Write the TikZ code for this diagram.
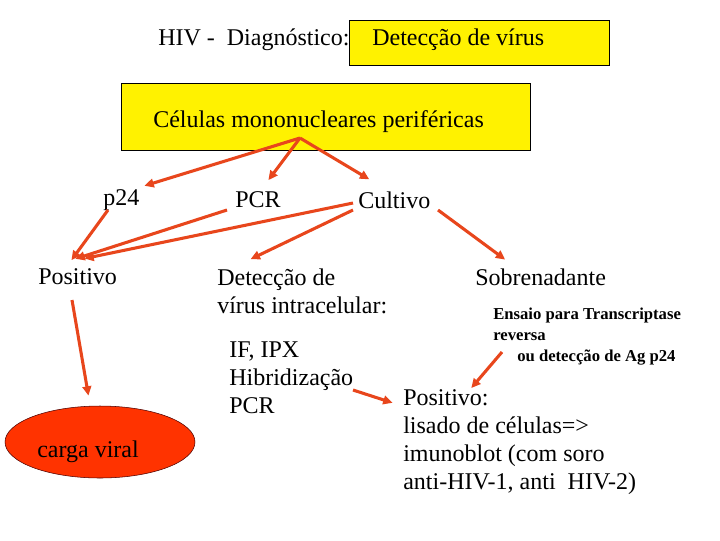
\documentclass[tikz,border=0pt]{standalone}
\usepackage{fontspec}
\setmainfont{Liberation Serif}
\definecolor{arrred}{HTML}{E8461C}
\definecolor{ellred}{HTML}{FF3300}
\usetikzlibrary{arrows.meta, shapes.geometric}
\begin{document}
\begin{tikzpicture}[
    x=0.75pt, y=-0.75pt,
    txt/.style={anchor=west, inner sep=0pt, align=left,
                font=\fontsize{18}{21}\selectfont},
    small/.style={anchor=west, inner sep=0pt, align=left,
                  font=\fontsize{12.5}{15.75}\selectfont\bfseries},
    ybox/.style={draw, fill=yellow, inner sep=0pt},
    arr/.style={-{Triangle[length=7pt,width=6.5pt]}, line width=2.3pt,
                arrred, shorten >=-2pt}
]
  \useasboundingbox (0,0) rectangle (720,540);

  % Title
  \node[txt] (title) at (158,40) {HIV -\ \ Diagnóstico:};
  \node[ybox, minimum width=195pt, minimum height=33.75pt]
       (virbox) at (479,42.5) {};
  \node[txt] (virus) at (372,40) {Detecção de vírus};

  % Cells
  \node[ybox, minimum width=306.75pt, minimum height=50.25pt]
       (celbox) at (325.5,116.5) {};
  \node[txt] (celulas) at (153,122) {Células mononucleares periféricas};

  % Tests
  \node[txt] (p24) at (103,200) {p24};
  \node[txt] (pcr) at (235,200) {PCR};
  \node[txt] (cultivo) at (358,200) {Cultivo};

  % Results
  \node[txt] (positivo) at (38,277) {Positivo};
  \node[txt] (intra) at (217,291) {Detecção de\\vírus intracelular:};
  \node[txt] (metodos) at (229,378) {IF, IPX\\Hibridização\\PCR};
  \node[txt] (sobre) at (475,277) {Sobrenadante};
  \node[small] (ensaio) at (493,337) {Ensaio para Transcriptase\\reversa\\
       \hspace*{18pt}ou detecção de Ag p24};
  \node[txt] (lisado) at (403,442)
       {Positivo:\\lisado de células=>\\imunoblot (com soro\\anti-HIV-1, anti\ \ HIV-2)};
  \node[draw=black!70!red, fill=ellred, ellipse, minimum width=142.5pt,
        minimum height=54pt, inner sep=0pt] (carga) at (100,442) {};
  \node[txt] (cargatxt) at (37,452) {carga viral};

  % Arrow ends
  \coordinate (c0) at (300,138);
  \coordinate (p24in) at (147,185);
  \coordinate (pcrin) at (270,178);
  \coordinate (culin) at (367,178);
  \coordinate (p24out) at (108,210);
  \coordinate (pcrout) at (227,210);
  \coordinate (culoutA) at (353,203);
  \coordinate (culoutB) at (353,210);
  \coordinate (culoutC) at (438,210);
  \coordinate (posA) at (73,258);
  \coordinate (posB) at (78,258);
  \coordinate (posC) at (87,258);
  \coordinate (intrain) at (253,258);
  \coordinate (sobrein) at (503,258);
  \coordinate (posout) at (72,300);
  \coordinate (cargain) at (88,393);
  \coordinate (metout) at (353,390);
  \coordinate (lisin) at (390,402);
  \coordinate (ensout) at (502,352);
  \coordinate (lisinB) at (473,386);

  % Arrows
  \draw[arr] (c0) -- (p24in);
  \draw[arr] (c0) -- (pcrin);
  \draw[arr] (c0) -- (culin);
  \draw[arr] (p24out) -- (posA);
  \draw[arr] (pcrout) -- (posB);
  \draw[arr] (culoutA) -- (posC);
  \draw[arr] (culoutB) -- (intrain);
  \draw[arr] (culoutC) -- (sobrein);
  \draw[arr] (posout) -- (cargain);
  \draw[arr] (metout) -- (lisin);
  \draw[arr] (ensout) -- (lisinB);
\end{tikzpicture}
\end{document}
